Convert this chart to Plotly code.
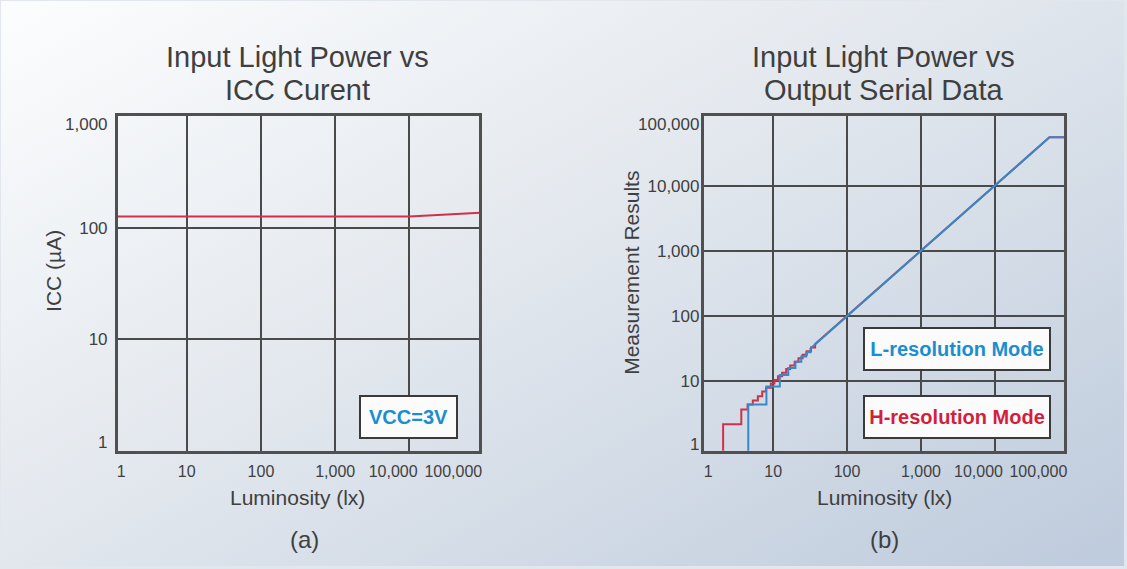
import base64
import plotly.graph_objects as go

# ---- data ---------------------------------------------------------------
# (a) supply current against light level
icc_lux = [1, 10, 100, 1000, 10000, 100000]
icc_ua = [126, 126, 126, 126, 126, 137]

# (b) output count: low-light staircase (lux where the count steps, new count)
h_step_lux = [2.1, 3.7, 4.5, 5.3, 6.2, 7.1, 8.0, 9.3, 10.4, 11.6, 13.2, 15.0,
              17.0, 19.5, 22.0, 25.0, 28.5, 32.5, 37.0]
h_step_count = [2.2, 3.7, 4.4, 5.1, 5.9, 7.0, 8.0, 9.3, 10.5, 12.0, 13.6, 15.5,
                17.5, 20.0, 22.5, 25.5, 29.0, 33.0, 37.5]
l_step_lux = [4.6, 8.1, 12.3, 16, 20, 24, 28, 32]
l_step_count = [4.4, 8.3, 12.5, 16, 20, 24, 28, 32]
# above the steps the count follows the light level, then saturates
tail_lux = [55000, 100000]
tail_count = [55000, 55000]
zero_count = 0.5  # no output yet (below the axis floor)

x_tick_text = ["1", "10", "100", "1,000", "10,000", "100,000"]
icc_tick_text = ["1", "10", "100", "1,000"]
count_tick_text = ["1", "10", "100", "1,000", "10,000", "100,000"]

# ---- style --------------------------------------------------------------
FONT = "Liberation Sans, Arial, sans-serif"
TXT = "#3f3f3f"
GRID = "#4a4a4a"
RED = "#d0304a"
BLUE = "#3589c9"
W, H = 1127, 569

LEFT = [117 / W, 480 / W]
RIGHT = [706 / W, 1067 / W]
YDOM = [1 - 453 / H, 1 - 116 / H]
X_RANGE = [0.07, 4.94]
ICC_RANGE = [0, 3]
COUNT_RANGE = [-0.065, 5.065]

# where the tick labels sit (log10), as placed in the original artwork
x_label_pos = [0.12, 1.0, 2.0, 3.0, 3.78, 4.59]
icc_label_pos = [0.08, 1.0, 2.0, 2.93]
count_label_pos = [0.04, 1.0, 2.0, 3.0, 4.0, 4.95]


def staircase(lux, count, tail_x, tail_y):
    xs, ys = [lux[0]], [zero_count]
    for i, (x, c) in enumerate(zip(lux, count)):
        if i:
            xs.append(x)
            ys.append(count[i - 1])
        xs.append(x)
        ys.append(c)
    return xs + tail_x, ys + tail_y


fig = go.Figure()

fig.add_trace(go.Scatter(x=icc_lux, y=icc_ua, mode="lines",
                         line=dict(color=RED, width=2),
                         xaxis="x", yaxis="y", showlegend=False))

hx, hy = staircase(h_step_lux, h_step_count, tail_lux, tail_count)
lx, ly = staircase(l_step_lux, l_step_count, tail_lux, tail_count)
fig.add_trace(go.Scatter(x=hx, y=hy, mode="lines", name="H-resolution Mode",
                         line=dict(color=RED, width=2),
                         xaxis="x2", yaxis="y2", showlegend=False))
fig.add_trace(go.Scatter(x=lx, y=ly, mode="lines", name="L-resolution Mode",
                         line=dict(color=BLUE, width=2),
                         xaxis="x2", yaxis="y2", showlegend=False))

# the label-only axes need a (drawless) trace each so plotly renders them
for xa, ya, xs, ys in [("x3", "y", icc_lux, icc_ua), ("x", "y3", icc_lux, icc_ua),
                       ("x4", "y2", lx, ly), ("x2", "y4", lx, ly)]:
    fig.add_trace(go.Scatter(x=xs, y=ys, mode="none", xaxis=xa, yaxis=ya,
                             hoverinfo="skip", showlegend=False))

grid_axis = dict(type="log", showticklabels=False, ticks="", showgrid=True,
                 gridcolor=GRID, gridwidth=1.6, zeroline=False,
                 showline=True, mirror=True, linecolor="#505050", linewidth=2.5)
label_axis = dict(type="log", showgrid=False, zeroline=False, showline=False,
                  ticks="", tickfont=dict(family=FONT, color=TXT))

fig.update_layout(
    xaxis=dict(grid_axis, domain=LEFT, anchor="y", range=X_RANGE,
               tickvals=[10, 100, 1000, 10000]),
    yaxis=dict(grid_axis, domain=YDOM, anchor="x", range=ICC_RANGE,
               tickvals=[10, 100]),
    xaxis2=dict(grid_axis, domain=RIGHT, anchor="y2", range=X_RANGE,
                tickvals=[10, 100, 1000, 10000]),
    yaxis2=dict(grid_axis, domain=YDOM, anchor="x2", range=COUNT_RANGE,
                tickvals=[10, 100, 1000, 10000]),
    xaxis3=dict(label_axis, overlaying="x", anchor="y", side="bottom",
                range=X_RANGE, tickvals=[10 ** p for p in x_label_pos],
                ticktext=x_tick_text, ticklabelstandoff=9,
                tickfont_size=16),
    xaxis4=dict(label_axis, overlaying="x2", anchor="y2", side="bottom",
                range=X_RANGE, tickvals=[10 ** p for p in x_label_pos],
                ticktext=x_tick_text, ticklabelstandoff=9,
                tickfont_size=16),
    yaxis3=dict(label_axis, overlaying="y", anchor="x", side="left",
                range=ICC_RANGE, tickvals=[10 ** p for p in icc_label_pos],
                ticktext=icc_tick_text, ticklabelstandoff=9,
                tickfont_size=17),
    yaxis4=dict(label_axis, overlaying="y2", anchor="x2", side="left",
                range=COUNT_RANGE, tickvals=[10 ** p for p in count_label_pos],
                ticktext=count_tick_text, ticklabelstandoff=4,
                tickfont_size=17),
    width=W,
    height=H,
    margin=dict(l=0, r=0, t=0, b=0),
    paper_bgcolor="#e2e7ee",
    plot_bgcolor="#f1f1f1",
    font=dict(family=FONT, color=TXT),
)

# soft grey-blue backdrop of the original figure
bg_svg = (
    '<svg xmlns="http://www.w3.org/2000/svg" width="1127" height="569">'
    '<defs><linearGradient id="g" x1="0" y1="0.05" x2="1" y2="0.95">'
    '<stop offset="0" stop-color="#fbfcfd"/>'
    '<stop offset="0.45" stop-color="#e3e8ee"/>'
    '<stop offset="1" stop-color="#bfccdd"/>'
    '</linearGradient></defs>'
    '<rect x="-2" y="-2" width="1131" height="573" fill="url(#g)"/>'
    '</svg>'
)
fig.add_layout_image(
    source="data:image/svg+xml;base64," + base64.b64encode(bg_svg.encode()).decode(),
    xref="paper", yref="paper", x=0, y=1, sizex=1, sizey=1,
    sizing="stretch", layer="below",
)


def py(px):
    return 1 - px / H


def pxx(px):
    return px / W


texts = [
    # chart titles, one annotation per line for the tighter line spacing
    dict(text="Input Light Power vs", x=pxx(298), y=py(56), size=29),
    dict(text="ICC Curent", x=pxx(298), y=py(90), size=29),
    dict(text="Input Light Power vs", x=pxx(886), y=py(56), size=29),
    dict(text="Output Serial Data", x=pxx(886), y=py(90), size=29),
    # axis titles
    dict(text="Luminosity (lx)", x=pxx(298), y=py(500), size=21),
    dict(text="Luminosity (lx)", x=pxx(887), y=py(500), size=21),
    dict(text="ICC (µA)", x=pxx(52), y=py(272), size=21, angle=-90),
    dict(text="Measurement Results", x=pxx(632), y=py(274), size=21, angle=-90),
    # panel letters
    dict(text="(a)", x=pxx(305), y=py(542), size=24),
    dict(text="(b)", x=pxx(887), y=py(542), size=24),
]
for t in texts:
    fig.add_annotation(text=t["text"], x=t["x"], y=t["y"], xref="paper", yref="paper",
                       xanchor="center", yanchor="middle", showarrow=False,
                       textangle=t.get("angle", 0),
                       font=dict(family=FONT, size=t["size"], color=TXT))

boxes = [
    dict(text="<b>VCC=3V</b>", x=408.5, y=419, w=95, color="#1b8ed0"),
    dict(text="<b>L-resolution Mode</b>", x=959, y=350.5, w=184, color="#1b8ed0"),
    dict(text="<b>H-resolution Mode</b>", x=959, y=419, w=184, color="#d41f3c"),
]
for b in boxes:
    fig.add_annotation(text=b["text"], x=pxx(b["x"]), y=py(b["y"]), xref="paper", yref="paper",
                       xanchor="center", yanchor="middle", showarrow=False,
                       width=b["w"], height=40, borderpad=0, borderwidth=2,
                       bordercolor="#3a3a3a", bgcolor="#fbfbfb",
                       font=dict(family=FONT, size=20, color=b["color"]))

# the page's default body margin would shift the figure by 8px
fig.write_html("out.html", config={"displayModeBar": False},
               post_script="document.body.style.margin='0';"
                           "document.body.style.overflow='hidden';"
                           "document.body.style.background='#e2e7ee';")
